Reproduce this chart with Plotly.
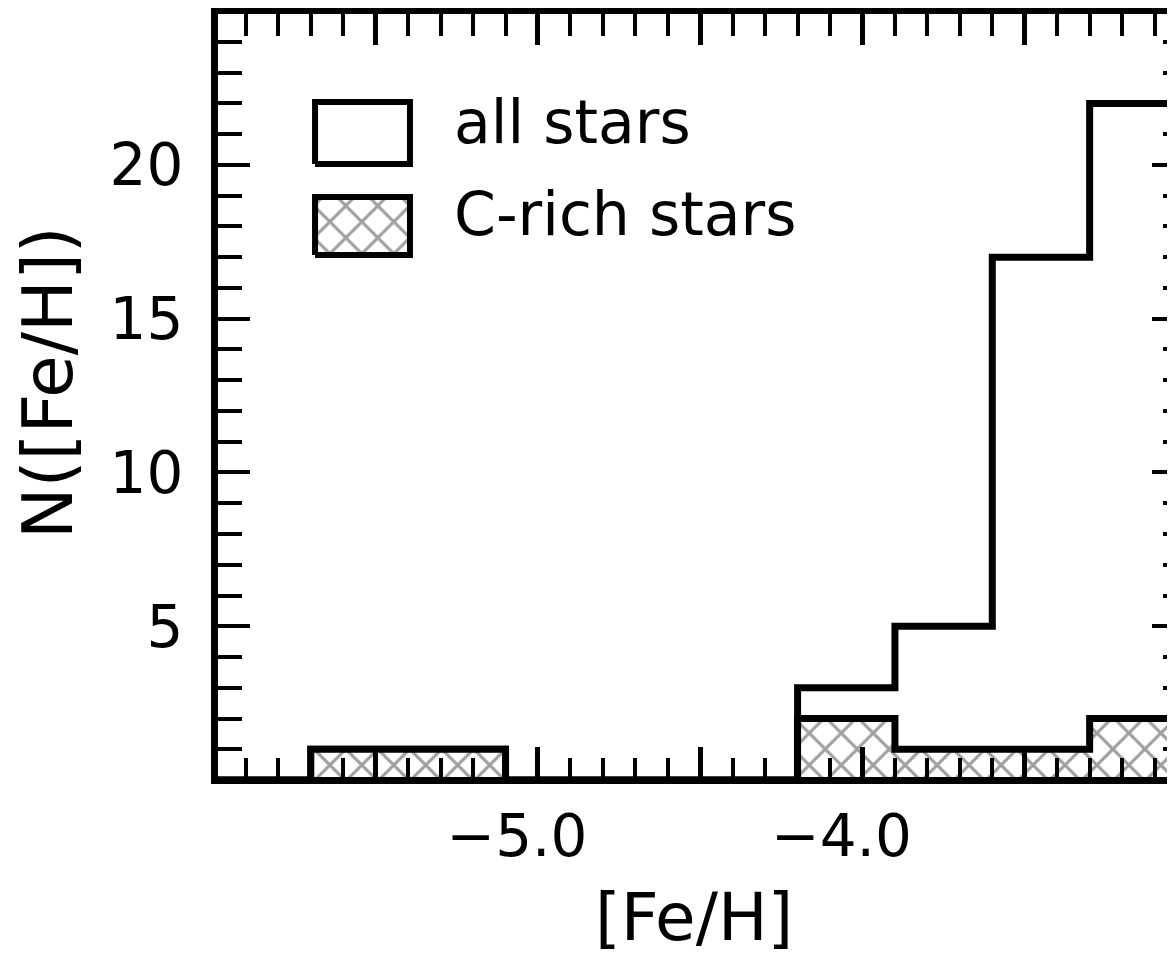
import plotly.graph_objects as go

# ---------------- data ----------------
bin_left = [-6.0, -5.7, -5.4, -5.1, -4.8, -4.5, -4.2, -3.9, -3.6, -3.3]
bin_width = 0.3
n_all = [0, 1, 1, 0, 0, 0, 3, 5, 17, 22]
n_crich = [0, 1, 1, 0, 0, 0, 2, 1, 1, 2]

x_major_ticks = [-5.5, -5.0, -4.5, -4.0, -3.5]
x_tick_labels = ["", "\u22125.0", "", "\u22124.0", ""]
y_major_ticks = [5, 10, 15, 20]
y_tick_labels = ["5", "10", "15", "20"]

legend_names = ["all stars", "C-rich stars"]

# ---------------- style / layout ----------------
# (the page body adds an 8 px offset, so the figure is 8 px smaller)
W, H = 1167, 953
ML, MR, MT, MB = 210, 0, 6, 184
X_RANGE = [-5.986, -3.037]
Y_RANGE = [0.0976, 24.91]
FONT = "DejaVu Sans"
LW = 7
HATCH = dict(shape="x", size=22.6, fgcolor="#404040", bgcolor="white", solidity=0.25)


def step_xy(left, width, counts):
    xs = list(left) + [left[-1] + width]
    ys = list(counts) + [counts[-1]]
    return xs, ys


fig = go.Figure()

xa, ya = step_xy(bin_left, bin_width, n_all)
fig.add_trace(go.Scatter(x=xa, y=ya, mode="lines", line=dict(shape="hv", color="black", width=LW),
                         name=legend_names[0], showlegend=False, hoverinfo="skip"))

xc, yc = step_xy(bin_left, bin_width, n_crich)
fig.add_trace(go.Scatter(x=xc, y=yc, mode="lines", line=dict(shape="hv", color="black", width=LW),
                         fill="tozeroy", fillcolor="white", fillpattern=HATCH,
                         name=legend_names[1], showlegend=False, hoverinfo="skip"))

# empty traces so that the top and right frame axes are drawn
fig.add_trace(go.Scatter(x=[None], y=[None], xaxis="x2", yaxis="y", showlegend=False, hoverinfo="skip"))
fig.add_trace(go.Scatter(x=[None], y=[None], xaxis="x", yaxis="y2", showlegend=False, hoverinfo="skip"))

# legend boxes (in a [0,1] overlay frame)
box_x = [0.1014, 0.2006]
box_y = [[0.8034, 0.8847], [0.6841, 0.7602]]
for i, (y0, y1) in enumerate(box_y):
    kw = dict(fill="toself", fillcolor="white")
    if i == 1:
        kw["fillpattern"] = HATCH
    fig.add_trace(go.Scatter(x=[box_x[0], box_x[1], box_x[1], box_x[0], box_x[0]],
                             y=[y0, y0, y1, y1, y0], mode="lines",
                             line=dict(color="black", width=6),
                             xaxis="x3", yaxis="y3", showlegend=False, hoverinfo="skip", **kw))

text_y = [0.858, 0.7378]
for name, ty in zip(legend_names, text_y):
    fig.add_annotation(text=name, xref="paper", yref="paper", x=0.2445, y=ty,
                       xanchor="left", yanchor="middle", showarrow=False,
                       font=dict(family=FONT, size=60, color="black"))

fig.add_annotation(text="[Fe/H]", xref="paper", yref="paper", x=0.4974, y=-0.1835,
                   xanchor="center", yanchor="middle", showarrow=False,
                   font=dict(family=FONT, size=66, color="black"))
fig.add_annotation(text="N([Fe/H])", xref="paper", yref="paper", x=-0.1776, y=0.5164,
                   xanchor="center", yanchor="middle", showarrow=False, textangle=-90,
                   font=dict(family=FONT, size=69, color="black"))

common_x = dict(range=X_RANGE, showgrid=False, zeroline=False, ticks="inside",
                tickmode="array", tickvals=x_major_ticks, tickcolor="black", tickwidth=5,
                fixedrange=True, automargin=False)
fig.update_layout(
    width=W, height=H, margin=dict(l=ML, r=MR, t=MT, b=MB),
    paper_bgcolor="white", plot_bgcolor="white", showlegend=False,
    xaxis=dict(**common_x, ticktext=x_tick_labels, ticklen=30,
               showline=True, linewidth=LW, linecolor="black",
               minor=dict(ticks="inside", ticklen=19, tickwidth=4, tickcolor="black",
                          tickmode="linear", tick0=-6.0, dtick=0.1, showgrid=False),
               tickfont=dict(family=FONT, size=58, color="black"),
               ticklabelshift=-21, ticklabelstandoff=2),
    xaxis2=dict(**common_x, overlaying="x", side="top", anchor="y", ticklen=31,
                showticklabels=False, showline=True, linewidth=LW, linecolor="black",
                minor=dict(ticks="inside", ticklen=22, tickwidth=4, tickcolor="black",
                           tickmode="linear", tick0=-6.0, dtick=0.1, showgrid=False)),
    yaxis=dict(range=Y_RANGE, showgrid=False, zeroline=False, ticks="inside",
               tickmode="array", tickvals=y_major_ticks, ticktext=y_tick_labels,
               ticklen=32, tickwidth=4, tickcolor="black",
               showline=True, linewidth=LW, linecolor="black",
               minor=dict(ticks="inside", ticklen=24, tickwidth=4, tickcolor="black",
                          tickmode="linear", tick0=0, dtick=1, showgrid=False),
               tickfont=dict(family=FONT, size=58, color="black"),
               ticklabelstandoff=16, fixedrange=True, automargin=False),
    yaxis2=dict(range=Y_RANGE, overlaying="y", side="right", anchor="x",
                showgrid=False, zeroline=False, ticks="inside",
                tickmode="array", tickvals=y_major_ticks, ticklen=23, tickwidth=4,
                tickcolor="black", showticklabels=False, showline=False,
                minor=dict(ticks="inside", ticklen=12, tickwidth=4, tickcolor="black",
                           tickmode="linear", tick0=0, dtick=1, showgrid=False),
                fixedrange=True, automargin=False),
    xaxis3=dict(range=[0, 1], overlaying="x", anchor="y3", visible=False, fixedrange=True),
    yaxis3=dict(range=[0, 1], overlaying="y", anchor="x3", visible=False, fixedrange=True),
)

fig.write_html("out.html", config={"displayModeBar": False, "staticPlot": True})
